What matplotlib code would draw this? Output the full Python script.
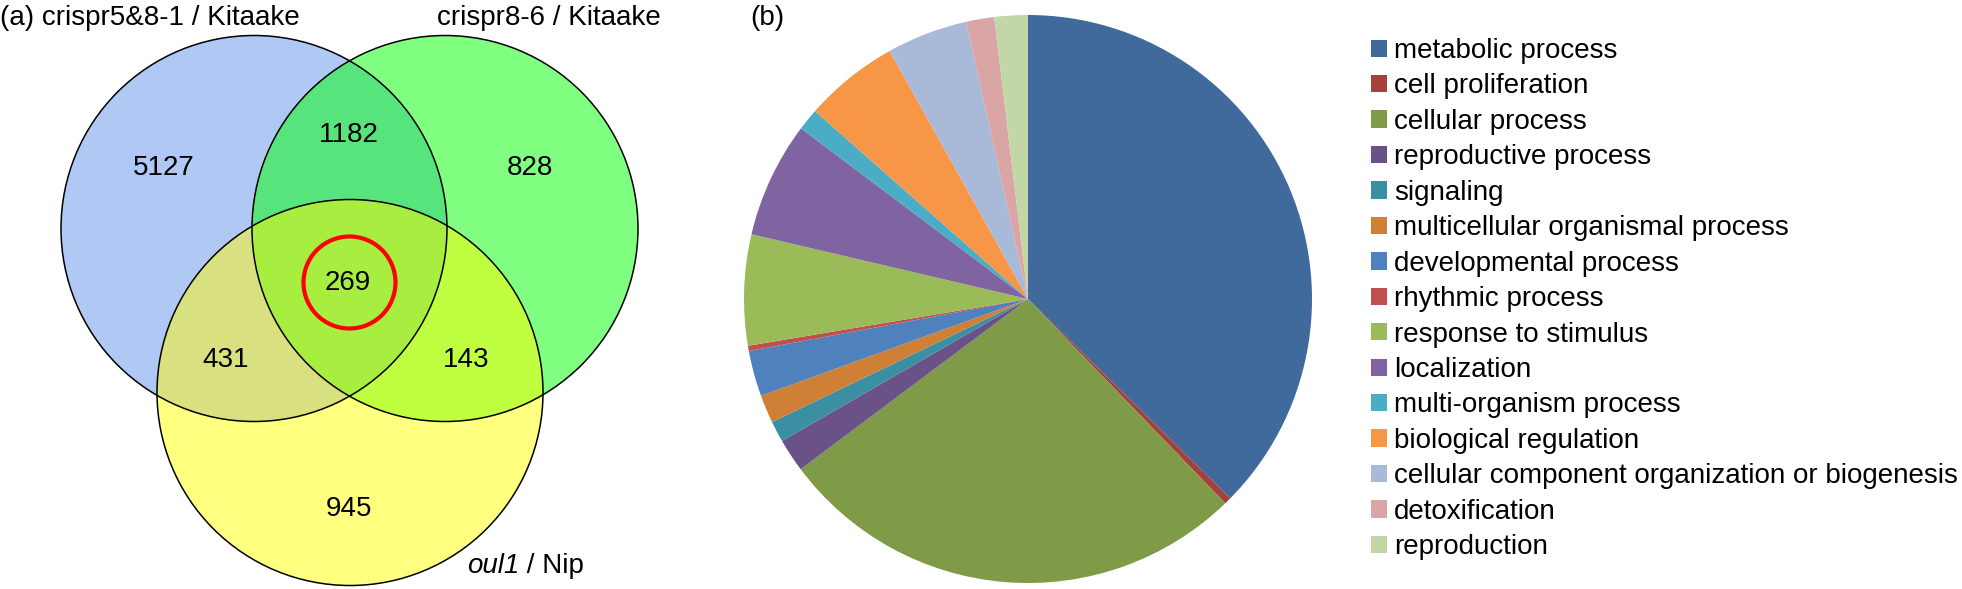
import numpy as np
import matplotlib
matplotlib.use("Agg")
import matplotlib.pyplot as plt
from matplotlib.patches import Circle, Polygon

plt.rcParams['font.family'] = ['Liberation Sans', 'DejaVu Sans']

# ---------------- data ----------------
set_labels = ["crispr5&8-1 / Kitaake", "crispr8-6 / Kitaake", "oul1", " / Nip"]
region_keys = ["A", "B", "C", "AB", "AC", "BC", "ABC"]
region_counts = [5127, 828, 945, 1182, 431, 143, 269]

go_terms = ["metabolic process", "cell proliferation", "cellular process",
            "reproductive process", "signaling", "multicellular organismal process",
            "developmental process", "rhythmic process", "response to stimulus",
            "localization", "multi-organism process", "biological regulation",
            "cellular component organization or biogenesis", "detoxification",
            "reproduction"]
go_percent = [37.4, 0.4, 27.0, 1.9, 1.2, 1.6, 2.6, 0.3, 6.3, 6.6, 1.25, 5.4, 4.6, 1.6, 1.9]
go_colors = ["#40699c", "#a5403d", "#809b48", "#6a5289", "#3a8fa3", "#d07f37",
             "#4f81bd", "#c0504d", "#9bbb59", "#8064a2", "#4bacc6", "#f79646",
             "#a9b9d8", "#d9a6a5", "#c3d6a6"]

# ---------------- layout ----------------
W, H = 1962, 589
def Y(y):
    return H - y

fig = plt.figure(figsize=(W / 100, H / 100), dpi=100)
ax = fig.add_axes([0, 0, 1, 1])

R = 193
centers = [(254, Y(228.5)), (445, Y(228.5)), (350, Y(392.5))]
base_cols = ["#b0c8f4", "#80ff80", "#ffff80"]
col_AB, col_AC, col_BC, col_ABC = "#58e47c", "#d8e080", "#c0ff40", "#a8ee40"

for c, col in zip(centers, base_cols):
    ax.add_patch(Circle(c, R, facecolor=col, edgecolor='none'))

def clipper(i):
    return Circle(centers[i], R, transform=ax.transData)

def add_clipped(center_idx, color, clip):
    p = Circle(centers[center_idx], R, facecolor=color, edgecolor='none')
    ax.add_patch(p)
    p.set_clip_path(clip)

add_clipped(1, col_AB, clipper(0))
add_clipped(2, col_AC, clipper(0))
add_clipped(2, col_BC, clipper(1))

# lens A∩B for the triple region
t = np.linspace(0, 2 * np.pi, 1440, endpoint=False)
ca, cb = np.array(centers[0]), np.array(centers[1])
pa = ca + R * np.c_[np.cos(t), np.sin(t)]
pb = cb + R * np.c_[np.cos(t), np.sin(t)]
pts = np.vstack([pa[np.hypot(*(pa - cb).T) <= R], pb[np.hypot(*(pb - ca).T) <= R]])
mid = (ca + cb) / 2
pts = pts[np.argsort(np.arctan2(pts[:, 1] - mid[1], pts[:, 0] - mid[0]))]
lens = Polygon(pts, closed=True, transform=ax.transData)
add_clipped(2, col_ABC, lens)

for c in centers:
    ax.add_patch(Circle(c, R, fill=False, edgecolor='black', linewidth=1.1))
ax.add_patch(Circle((349.5, Y(282.5)), 46, fill=False, edgecolor='#ff0000', linewidth=3))

num_pos = {"A": (164, 165), "B": (530, 165), "C": (349, 506), "AB": (349, 131.5),
           "AC": (226, 357), "BC": (466, 357), "ABC": (348, 280)}
for k, v in zip(region_keys, region_counts):
    x, y = num_pos[k]
    ax.text(x, Y(y + 10), str(v), fontsize=20, ha='center', va='baseline')

ax.text(0, Y(25), "(a) " + set_labels[0], fontsize=20, ha='left', va='baseline')
ax.text(437, Y(25), set_labels[1], fontsize=20, ha='left', va='baseline')
t1 = ax.text(467, Y(579), set_labels[2], fontsize=20, ha='left', va='bottom',
             fontstyle='italic')
ax.annotate(set_labels[3], xy=(1, 0), xycoords=t1, fontsize=20, ha='left', va='bottom')
ax.text(750, Y(25), "(b)", fontsize=20, ha='left', va='baseline')

# ---------------- pie ----------------
wedges, _ = ax.pie(go_percent, colors=go_colors, startangle=90, counterclock=False,
                   center=(1028, Y(299)), radius=284,
                   wedgeprops=dict(linewidth=0, edgecolor='none'))

ax.legend(wedges, go_terms, loc='upper left', bbox_to_anchor=(1371, Y(38)),
          bbox_transform=ax.transData, frameon=False, fontsize=20,
          handlelength=0.58, handleheight=0.58, handletextpad=0.25,
          labelspacing=0.34, borderpad=0, borderaxespad=0)

ax.set_xlim(0, W)
ax.set_ylim(0, H)
ax.set_aspect('auto')
ax.axis('off')
fig.savefig("out.png", dpi=100)
